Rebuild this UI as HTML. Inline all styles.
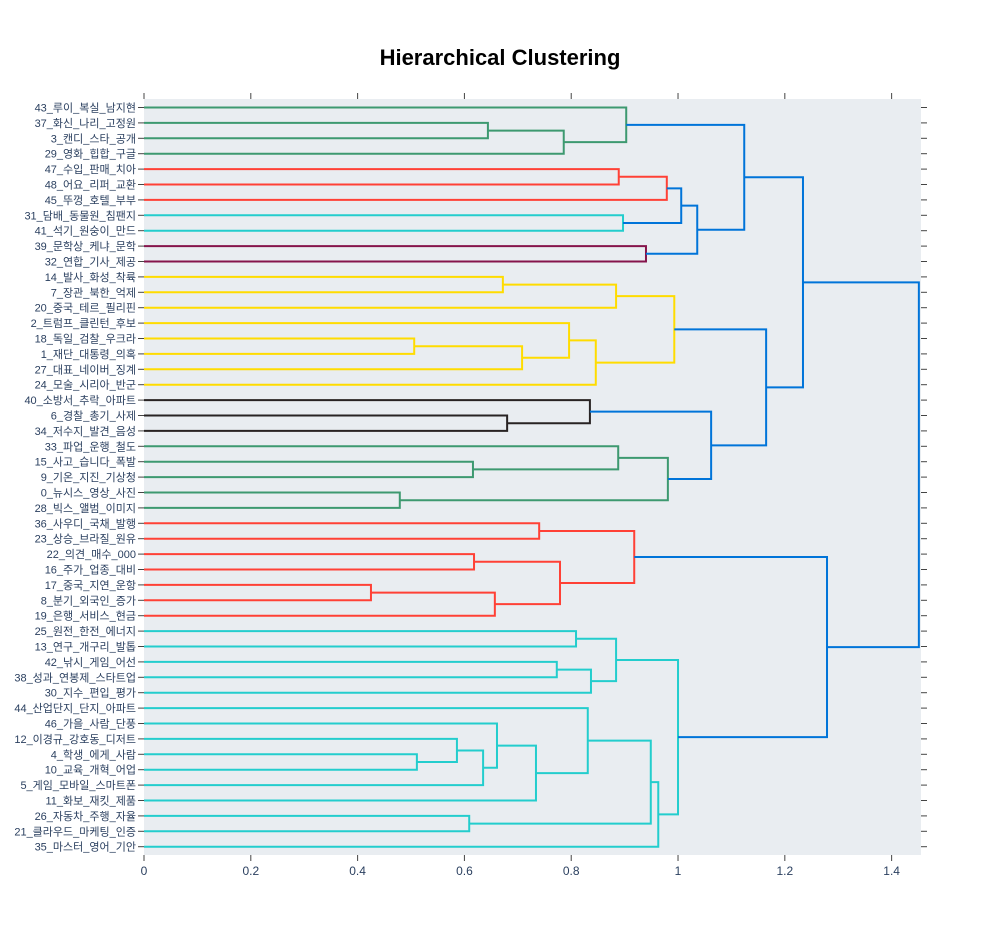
<!DOCTYPE html>
<html><head><meta charset="utf-8"><style>
body{margin:0;background:#fff;}
svg{display:block;font-family:"Liberation Sans","Noto Sans CJK KR",sans-serif;}
</style></head><body>
<svg id="chart" width="1000" height="935">
<text x="500" y="65" text-anchor="middle" font-size="22" font-weight="bold" fill="#000">Hierarchical Clustering</text>
<rect x="144" y="99" width="777" height="756" fill="#e9edf1"/>
<g id="links"></g><g id="axes"></g>
</svg>
<script>
const leaves=["43_루이_복실_남지현","37_화신_나리_고정원","3_캔디_스타_공개","29_영화_힙합_구글","47_수입_판매_치아","48_어요_리퍼_교환","45_뚜껑_호텔_부부","31_담배_동물원_침팬지","41_석기_원숭이_만드","39_문학상_케냐_문학","32_연합_기사_제공","14_발사_화성_착륙","7_장관_북한_억제","20_중국_테르_필리핀","2_트럼프_클린턴_후보","18_독일_검찰_우크라","1_재단_대통령_의혹","27_대표_네이버_징계","24_모술_시리아_반군","40_소방서_추락_아파트","6_경찰_총기_사제","34_저수지_발견_음성","33_파업_운행_철도","15_사고_습니다_폭발","9_기온_지진_기상청","0_뉴시스_영상_사진","28_빅스_앨범_이미지","36_사우디_국채_발행","23_상승_브라질_원유","22_의견_매수_000","16_주가_업종_대비","17_중국_지연_운항","8_분기_외국인_증가","19_은행_서비스_현금","25_원전_한전_에너지","13_연구_개구리_발톱","42_낚시_게임_어선","38_성과_연봉제_스타트업","30_지수_편입_평가","44_산업단지_단지_아파트","46_가을_사람_단풍","12_이경규_강호동_디저트","4_학생_에게_사람","10_교육_개혁_어업","5_게임_모바일_스마트폰","11_화보_재킷_제품","26_자동차_주행_자율","21_클라우드_마케팅_인증","35_마스터_영어_기안"];
const mergeIds=["m1","m2","m3","m4","m5","m6","m7","m8","m9","m10","y1","y2","y3","y4","y5","y6","y7","k1","k2","g1","g2","g3","g4","b1","b2","b3","r1","r2","r3","r4","r5","r6","c1","c2","c3","c4","c5","c6","c7","c8","c9","c10","c11","c12","c13","c14","b4","root"];
const mergeLeft=[1,"m1",0,4,"m4",7,"m5",9,"m7","m3",11,"y1",15,"y3",14,"y5","y2",20,19,23,22,25,"g2","k2","y7","m10",27,29,31,"r3","r2","r1",34,36,"c2","c1",42,41,"c6",40,"c8",39,46,"c10","c12","c4","r6","b3"];
const mergeRight=[2,3,"m2",5,6,8,"m6",10,"m8","m9",12,13,16,17,"y4",18,"y6",21,"k1",24,"g1",26,"g3","g4","b1","b2",28,30,32,33,"r4","r5",35,37,38,"c3",43,"c5",44,"c7",45,"c9",47,"c11",48,"c13","c14","b4"];
const mergeHeight=[0.644,0.786,0.903,0.889,0.979,0.897,1.006,0.940,1.036,1.124,0.672,0.884,0.506,0.708,0.796,0.846,0.993,0.680,0.835,0.616,0.888,0.479,0.981,1.062,1.165,1.234,0.740,0.618,0.425,0.657,0.779,0.918,0.809,0.773,0.837,0.884,0.511,0.586,0.635,0.661,0.734,0.831,0.609,0.949,0.963,1.0,1.279,1.451];
const mergeColor=["G","G","G","R","R","C","B","P","B","B","Y","Y","Y","Y","Y","Y","Y","K","K","G","G","G","G","B","B","B","R","R","R","R","R","R","C","C","C","C","C","C","C","C","C","C","C","C","C","C","B","B"];
const xTicks=[0,0.2,0.4,0.6,0.8,1,1.2,1.4];
const palette={G:"rgb(61,153,112)",R:"rgb(255,65,54)",C:"rgb(35,205,205)",B:"rgb(0,116,217)",P:"rgb(133,20,75)",Y:"rgb(255,220,0)",K:"rgb(40,35,35)"};
const X0=144,X1=921,XMAX=1.455,Y0=107.5,DY=15.4;
const sx=d=>X0+d/XMAX*(X1-X0);
const sy=i=>Y0+i*DY;
const NS="http://www.w3.org/2000/svg";
const svg=document.getElementById('chart'),links=document.getElementById('links'),axes=document.getElementById('axes');
function mk(tag,attrs,parent){const e=document.createElementNS(NS,tag);for(const k in attrs)e.setAttribute(k,attrs[k]);parent.appendChild(e);return e;}
const node={};
function get(r){if(typeof r==="number")return {h:0,y:sy(r)};return node[r];}
mergeIds.forEach((id,i)=>{
  const a=get(mergeLeft[i]),b=get(mergeRight[i]),h=mergeHeight[i];
  const p=mk('path',{d:`M${sx(a.h)},${a.y}H${sx(h)}V${b.y}H${sx(b.h)}`,fill:'none',stroke:palette[mergeColor[i]],'stroke-width':2},links);
  
  
  node[id]={h:h,y:(a.y+b.y)/2};
});
leaves.forEach((l,i)=>{
  const y=sy(i);
  const t=mk('text',{x:136,y:y+4,'text-anchor':'end','font-size':11,fill:'#2a3f5f'},axes);t.textContent=l;
  
  
  mk('line',{x1:138,x2:144,y1:y,y2:y,stroke:'#444','stroke-width':1},axes);
  mk('line',{x1:921,x2:927,y1:y,y2:y,stroke:'#444','stroke-width':1},axes);
});
xTicks.forEach(v=>{
  const x=sx(v);
  mk('line',{x1:x,x2:x,y1:93,y2:99,stroke:'#444','stroke-width':1},axes);
  mk('line',{x1:x,x2:x,y1:855,y2:861,stroke:'#444','stroke-width':1},axes);
  const t=mk('text',{x:x,y:875,'text-anchor':'middle','font-size':12,fill:'#2a3f5f'},axes);t.textContent=String(v);
  
  
});
</script>
</body></html>
